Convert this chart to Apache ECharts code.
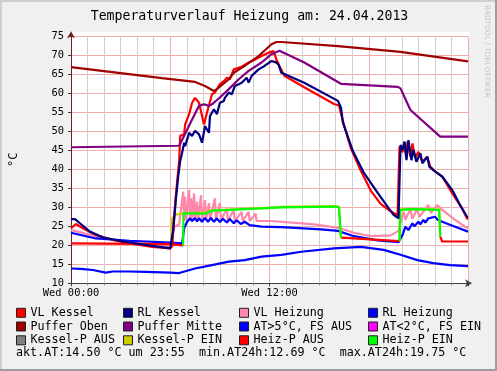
<!DOCTYPE html>
<html><head><meta charset="utf-8">
<script src="https://cdn.jsdelivr.net/npm/echarts@6/dist/echarts.min.js"></script>
<style>html,body{margin:0;padding:0;background:#F0F0F0;}#c{width:497px;height:371px;}</style>
</head><body><div id="c"></div>
<script>
// time in hours since Wed 00:00, values in °C
const titleText = 'Temperaturverlauf Heizung am: 24.04.2013';
const statsText = 'akt.AT:14.50 °C um 23:55  min.AT24h:12.69 °C  max.AT24h:19.75 °C';
const xTickLabels = {0: 'Wed 00:00', 12: 'Wed 12:00'};
const yMin = 10, yMax = 75, yStep = 5;

const vlKessel = [[0,24.5],[0.30,25.6],[0.72,24.5],[1.50,22.7],[2.52,21.4],[3.54,20.5],[4.92,19.6],[6.00,19.2],[6.12,19.8],[6.24,28.0],[6.42,37.0],[6.54,42.2],[6.60,48.8],[6.84,49.2],[6.90,51.8],[7.14,54.5],[7.32,57.5],[7.50,58.8],[7.74,57.5],[7.80,57.1],[8.04,51.8],[8.22,54.9],[8.52,59.7],[8.70,60.2],[9.00,62.4],[9.24,63.2],[9.42,64.1],[9.60,63.7],[9.84,66.3],[10.32,67.0],[10.74,68.1],[11.10,68.8],[11.52,69.8],[11.94,70.7],[12.24,71.1],[12.42,68.9],[12.60,67.2],[12.90,64.6],[14.10,61.6],[15.90,57.2],[16.20,56.8],[16.44,52.6],[16.92,45.5],[17.52,39.6],[18.12,34.4],[18.72,30.9],[19.20,29.3],[19.74,27.9],[19.86,46.0],[20.04,44.5],[20.16,47.0],[20.28,43.0],[20.34,47.3],[20.52,43.3],[20.64,46.8],[20.82,43.0],[21.00,44.6],[21.24,42.0],[21.54,43.3],[21.72,40.7],[22.02,39.4],[22.44,38.1],[23.04,33.7],[23.64,29.7],[23.94,27.1],[24,26.9]];

const rlKessel = [[0,26.9],[0.24,26.9],[0.54,25.8],[1.14,23.6],[1.92,22.1],[3.12,21.0],[4.50,20.1],[6.00,19.2],[6.18,24.0],[6.36,33.0],[6.48,38.0],[6.60,42.2],[6.72,44.4],[6.84,47.0],[6.90,46.1],[7.14,49.6],[7.32,48.8],[7.50,50.1],[7.74,49.2],[7.92,47.0],[8.10,51.4],[8.34,49.6],[8.40,54.0],[8.64,55.8],[8.82,54.5],[9.00,57.5],[9.24,58.0],[9.30,58.8],[9.54,60.2],[9.72,59.7],[9.90,61.9],[10.14,62.4],[10.32,62.8],[10.62,64.1],[10.74,62.8],[10.92,64.6],[11.34,66.3],[11.70,67.2],[12.12,68.5],[12.36,68.2],[12.54,67.6],[12.72,65.4],[14.10,62.8],[16.14,58.0],[16.32,56.2],[16.44,52.3],[17.04,44.8],[17.70,39.1],[18.54,33.8],[19.20,29.8],[19.50,28.0],[19.80,27.1],[19.92,46.4],[20.04,45.1],[20.16,47.3],[20.28,42.4],[20.40,47.7],[20.58,42.4],[20.70,45.1],[20.88,42.0],[21.12,44.2],[21.24,41.6],[21.54,43.3],[21.66,40.7],[21.90,39.8],[22.44,38.1],[23.04,34.6],[23.52,30.6],[23.94,27.5],[24,27.4]];

const vlHeizung = [[0,24.0],[0.60,23.4],[1.32,22.5],[3.12,21.0],[4.80,20.1],[6.00,19.6],[6.12,22.0],[6.24,24.9],[6.54,25.5],[6.78,34.1],[6.84,26.5],[6.90,32.8],[6.96,26.5],[7.14,34.6],[7.20,26.5],[7.26,32.4],[7.32,26.5],[7.44,33.7],[7.50,26.5],[7.62,31.5],[7.68,26.5],[7.86,33.2],[7.92,26.5],[8.10,31.9],[8.16,26.5],[8.34,31.1],[8.40,26.5],[8.70,32.4],[8.76,26.5],[9.00,31.2],[9.06,26.5],[9.42,29.7],[9.48,26.5],[9.84,29.3],[9.90,26.4],[10.32,28.8],[10.38,26.4],[10.74,28.8],[10.80,26.4],[11.16,28.3],[11.22,26.4],[12.12,26.4],[14.70,25.5],[16.14,24.6],[17.10,23.3],[18.12,22.4],[19.32,22.6],[19.80,23.8],[19.92,26.0],[20.10,28.8],[20.22,26.7],[20.34,28.0],[20.52,29.3],[20.64,27.0],[20.94,29.7],[21.06,27.5],[21.60,30.6],[21.75,28.5],[22.14,30.6],[22.44,29.3],[23.22,26.7],[23.82,24.9],[24,24.5]];

const rlHeizung = [[0,23.3],[1.50,21.8],[3.54,21.2],[6.00,20.7],[6.12,20.5],[6.72,20.5],[6.84,24.5],[7.02,26.2],[7.20,27.1],[7.32,26.4],[7.50,27.2],[7.62,26.3],[7.74,27.1],[7.92,26.2],[8.10,27.2],[8.28,26.2],[8.46,27.2],[8.64,26.2],[8.82,27.1],[9.00,26.1],[9.18,27.0],[9.42,26.0],[9.60,26.9],[9.84,25.8],[10.02,26.6],[10.26,25.6],[10.50,26.2],[10.80,25.3],[11.52,24.9],[12.72,24.8],[15.12,24.2],[16.14,23.8],[17.10,22.4],[18.54,21.3],[19.80,20.8],[20.04,22.7],[20.22,24.9],[20.40,24.0],[20.64,25.8],[20.76,25.0],[21.00,26.2],[21.12,25.5],[21.30,26.7],[21.42,26.0],[21.60,27.1],[22.02,27.5],[22.14,26.8],[22.44,26.2],[23.22,24.9],[24,23.6]];

const pufferOben = [[0,66.9],[5.50,64.0],[7.50,63.0],[8.10,61.9],[8.64,60.6],[8.82,61.1],[9.54,63.7],[9.84,65.4],[10.50,67.2],[11.34,69.8],[12.12,72.9],[12.42,73.5],[12.72,73.5],[16.14,72.4],[19.92,70.9],[24,68.4]];

const pufferMitte = [[0,45.8],[6.54,46.2],[6.72,47.8],[7.02,50.4],[7.32,53.1],[7.74,56.7],[8.04,57.1],[8.34,56.7],[8.52,57.1],[9.00,58.9],[9.54,61.1],[10.14,63.7],[10.74,65.9],[11.52,68.1],[12.12,70.3],[12.60,71.2],[14.10,68.1],[16.32,62.5],[19.74,61.7],[19.92,61.3],[20.52,55.6],[22.32,48.6],[24,48.6]];

const atWarm = [[0,13.9],[0.60,13.8],[1.32,13.5],[2.10,12.8],[2.52,13.1],[3.54,13.1],[4.50,13.0],[6.00,12.8],[6.54,12.7],[7.50,13.9],[8.52,14.8],[9.54,15.7],[10.50,16.1],[11.52,17.0],[12.72,17.5],[13.92,18.3],[15.90,19.2],[17.52,19.6],[18.90,18.8],[19.92,17.5],[20.94,16.1],[21.90,15.3],[22.92,14.8],[24,14.5]];
const atCold = [];

const kesselAus = [];
const kesselEin = [[6.08,21.0],[6.12,27.1],[6.30,28.0],[6.78,28.5],[7.50,28.5],[8.10,28.6],[8.52,29.2],[9.54,29.4],[10.50,29.6],[11.52,29.8],[12.72,30.1],[16.00,30.3],[16.20,30.1],[16.32,22.0],[16.33,'-'],[19.85,'-'],[19.86,21.1],[19.90,29.4],[20.52,29.6],[22.26,29.4],[22.32,22.3]];
const heizAus = [[0,20.5],[6.00,20.3],[6.12,20.0],[6.78,20.0],[6.79,'-'],[16.31,'-'],[16.32,22.0],[16.40,21.5],[19.86,21.1],[19.87,'-'],[22.31,'-'],[22.32,22.3],[22.44,21.0],[24,21.0]];
const heizEin = [[6.78,20.0],[6.80,28.4],[7.50,28.4],[8.10,28.3],[8.52,29.1],[9.54,29.3],[10.50,29.5],[11.52,29.7],[12.72,30.0],[16.00,30.2],[16.20,30.0],[16.32,22.0],[16.33,'-'],[19.85,'-'],[19.86,21.1],[19.90,29.3],[20.52,29.5],[22.26,29.3],[22.32,22.3]];

const FONT = 'DejaVu Sans Mono';
const seriesDefs = [
  {name:'Kessel-P AUS', color:'#808080', data:kesselAus},
  {name:'VL Heizung', color:'#FF88AA', data:vlHeizung},
  {name:'RL Heizung', color:'#0000FF', data:rlHeizung},
  {name:'Kessel-P EIN', color:'#CCCC00', data:kesselEin},
  {name:'Heiz-P AUS', color:'#FF0000', data:heizAus},
  {name:'Heiz-P EIN', color:'#00FF00', data:heizEin},
  {name:'AT>5°C, FS AUS', color:'#0000FF', data:atWarm},
  {name:'AT<2°C, FS EIN', color:'#FF00FF', data:atCold},
  {name:'VL Kessel', color:'#FF0000', data:vlKessel},
  {name:'RL Kessel', color:'#000080', data:rlKessel},
  {name:'Puffer Oben', color:'#A00000', data:pufferOben},
  {name:'Puffer Mitte', color:'#800080', data:pufferMitte}
];
const legendLayout = [
  ['VL Kessel',16,0],['RL Kessel',123,0],['VL Heizung',239,0],['RL Heizung',368,0],
  ['Puffer Oben',16,1],['Puffer Mitte',123,1],['AT>5°C, FS AUS',239,1],['AT<2°C, FS EIN',368,1],
  ['Kessel-P AUS',16,2],['Kessel-P EIN',123,2],['Heiz-P AUS',239,2],['Heiz-P EIN',368,2]
];
const rowTops = [306.8, 320.5, 334.3];

const chart = echarts.init(document.getElementById('c'), null, {renderer:'canvas'});
chart.setOption({
  animation:false,
  backgroundColor:'#F0F0F0',
  grid:{left:68, right:29, top:36.3, bottom:87.7, show:true, backgroundColor:'#FFFFFF', borderWidth:0},
  xAxis:{type:'value', min:0, max:24, interval:6,
    axisLine:{show:true, lineStyle:{color:'#404040', width:1}, symbol:['none','arrow'], symbolSize:[6,7], symbolOffset:[0,4]},
    axisTick:{show:true, length:3, lineStyle:{color:'#404040'}},
    axisLabel:{margin:5, fontFamily:FONT, fontSize:10.4, color:'#000',
      formatter:v => xTickLabels[v] || ''},
    splitLine:{show:true, lineStyle:{color:'#F2ACAC', width:1}},
    minorTick:{show:true, splitNumber:6, length:2, lineStyle:{color:'#808080'}},
    minorSplitLine:{show:true, lineStyle:{color:'#D0D0D0', width:1}}
  },
  yAxis:{type:'value', min:yMin, max:yMax, interval:yStep,
    name:'°C', nameLocation:'middle', nameGap:51, nameRotate:90,
    nameTextStyle:{fontFamily:FONT, fontSize:12, color:'#000'},
    axisLine:{show:true, lineStyle:{color:'#6A2020', width:1}, symbol:['none','arrow'], symbolSize:[6,7], symbolOffset:[0,5]},
    axisTick:{show:true, length:3, lineStyle:{color:'#404040'}},
    axisLabel:{margin:7, fontFamily:FONT, fontSize:10.4, color:'#000'},
    splitLine:{show:true, lineStyle:{color:'#F2ACAC', width:1}}
  },
  legend: legendLayout.map(([n,l,r]) => ({
    data:[n], left:l, top:rowTops[r], padding:0, itemGap:0, icon:'rect',
    itemWidth:9, itemHeight:9, selectedMode:false,
    itemStyle:{borderColor:'#202020', borderWidth:1},
    textStyle:{fontFamily:FONT, fontSize:11.7, color:'#000'}
  })),
  graphic:[
    {type:'rect', shape:{x:68, y:32, width:402, height:4.5}, style:{fill:'#FFFFFF'}, silent:true, z:-1},
    {type:'rect', shape:{x:0, y:0, width:497, height:2}, style:{fill:'#CFCFCF'}, silent:true},
    {type:'rect', shape:{x:0, y:0, width:2, height:371}, style:{fill:'#CFCFCF'}, silent:true},
    {type:'rect', shape:{x:0, y:369, width:497, height:2}, style:{fill:'#9E9E9E'}, silent:true},
    {type:'rect', shape:{x:495, y:0, width:2, height:371}, style:{fill:'#9E9E9E'}, silent:true},
    {type:'text', x:249.5, y:16.5, style:{text:titleText, fontFamily:FONT, fontSize:13.2, fill:'#000', align:'center', verticalAlign:'middle'}},
    {type:'text', x:16, y:352.7, style:{text:statsText, fontFamily:FONT, fontSize:11.7, fill:'#000', align:'left', verticalAlign:'middle'}},
    {type:'text', x:487, y:5, rotation:-Math.PI/2, style:{text:'RRDTOOL / TOBI OETIKER', fontFamily:'DejaVu Sans', fontSize:7.2, fill:'#C4C4C4', align:'left', verticalAlign:'middle'}}
  ],
  series: seriesDefs.map(s => ({
    name:s.name, type:'line', data:s.data, color:s.color, showSymbol:false, symbol:'none',
    connectNulls:false, lineStyle:{width:2.2, color:s.color}, itemStyle:{color:s.color}
  }))
});
</script></body></html>
